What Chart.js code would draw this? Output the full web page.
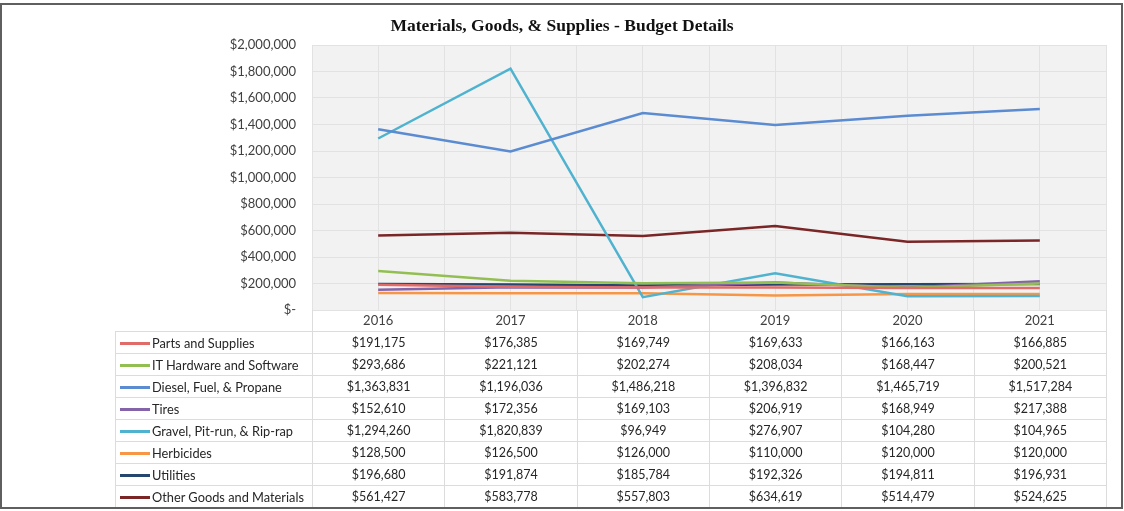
<!DOCTYPE html>
<html>
<head>
    <title>Materials, Goods, & Supplies - Budget Details</title>
    <script src="https://cdn.jsdelivr.net/npm/chart.js"></script>
    <style>
        body {
            margin: 0;
            background: #fff;
            font-family: Lato, sans-serif;
        }
        .wrap {
            position: relative;
            width: 1124px;
            height: 511px;
        }
        .frame {
            position: absolute;
            left: 0;
            top: 3px;
            width: 1119px;
            height: 502px;
            border: 2px solid #5f5f5f;
            pointer-events: none;
        }
        #table {
            position: absolute;
            left: 115px;
            top: 309px;
            border-collapse: collapse;
            table-layout: fixed;
            font-size: 12.5px;
            color: #262626;
        }
        #table td {
            border: 1px solid #dcdcdc;
            padding: 0;
            height: 21px;
            text-align: center;
            white-space: nowrap;
            overflow: hidden;
        }
        #table tr.head td {
            border-top: none;
            height: 21px;
        }
        #table tr.head td.corner {
            border-left: none;
        }
        #table td.name {
            text-align: left;
            padding-left: 4px;
            font-size: 12.8px;
        }
        .swatch {
            display: inline-block;
            width: 30px;
            height: 3px;
            vertical-align: middle;
            margin-right: 2px;
            margin-top: -2px;
        }
    </style>
</head>
<body>
    <div class="wrap">
        <canvas id="chart" width="1124" height="511"></canvas>
        <table id="table"></table>
        <div class="frame"></div>
    </div>

    <script>
        const years = ['2016', '2017', '2018', '2019', '2020', '2021'];

        const partsSupplies = [191175, 176385, 169749, 169633, 166163, 166885];
        const itHardware = [293686, 221121, 202274, 208034, 168447, 200521];
        const dieselFuel = [1363831, 1196036, 1486218, 1396832, 1465719, 1517284];
        const tires = [152610, 172356, 169103, 206919, 168949, 217388];
        const gravel = [1294260, 1820839, 96949, 276907, 104280, 104965];
        const herbicides = [128500, 126500, 126000, 110000, 120000, 120000];
        const utilities = [196680, 191874, 185784, 192326, 194811, 196931];
        const otherGoods = [561427, 583778, 557803, 634619, 514479, 524625];

        const seriesNames = ['Parts and Supplies', 'IT Hardware and Software', 'Diesel, Fuel, & Propane', 'Tires',
            'Gravel, Pit-run, & Rip-rap', 'Herbicides', 'Utilities', 'Other Goods and Materials'];
        const seriesValues = [partsSupplies, itHardware, dieselFuel, tires, gravel, herbicides, utilities, otherGoods];
        const seriesColors = ['#e06b68', '#93bf52', '#5b8bd1', '#8463a9', '#4fb3cf', '#f79646', '#24466f', '#7a2626'];

        const yTicks = [0, 200000, 400000, 600000, 800000, 1000000, 1200000, 1400000, 1600000, 1800000, 2000000];

        const money = v => '$' + v.toLocaleString('en-US');

        // plot background like the excel grey fill
        const plotFill = {
            id: 'plotFill',
            beforeDraw(chart) {
                const a = chart.chartArea;
                const ctx = chart.ctx;
                ctx.save();
                ctx.fillStyle = '#f2f2f2';
                ctx.fillRect(a.left, a.top, a.right - a.left, a.bottom - a.top);
                ctx.restore();
            }
        };

        const chart = new Chart(document.getElementById('chart'), {
            type: 'line',
            data: {
                labels: years,
                datasets: seriesNames.map((name, i) => ({
                    label: name,
                    data: seriesValues[i],
                    borderColor: seriesColors[i],
                    backgroundColor: seriesColors[i],
                    borderWidth: 2.5,
                    pointRadius: 0,
                    tension: 0,
                    fill: false
                }))
            },
            options: {
                responsive: false,
                animation: false,
                layout: {
                    padding: { left: 18, right: 18, top: 0, bottom: 180 }
                },
                plugins: {
                    legend: { display: false },
                    tooltip: { enabled: false },
                    title: {
                        display: true,
                        text: 'Materials, Goods, & Supplies - Budget Details',
                        color: '#111',
                        font: { family: "'Liberation Serif', serif", size: 17.5, weight: 'bold' },
                        padding: { top: 16, bottom: 8 }
                    }
                },
                scales: {
                    x: {
                        type: 'category',
                        offset: true,
                        grid: { display: false, drawTicks: false },
                        border: { display: false },
                        ticks: {
                            color: '#404040',
                            font: { family: 'Lato', size: 13 },
                            padding: 3,
                            maxRotation: 0
                        },
                        afterFit(scale) { scale.height = 21; }
                    },
                    // half-category gridlines only
                    xg: {
                        type: 'linear',
                        position: 'bottom',
                        min: 0,
                        max: 12,
                        ticks: { display: false, stepSize: 1 },
                        grid: { color: '#e2e2e2', drawTicks: false },
                        border: { display: false },
                        afterFit(scale) { scale.height = 0; }
                    },
                    y: {
                        min: 0,
                        max: 2000000,
                        afterBuildTicks(scale) { scale.ticks = yTicks.map(v => ({ value: v })); },
                        grid: { color: '#e2e2e2', drawTicks: false },
                        border: { display: false },
                        ticks: {
                            color: '#404040',
                            font: { family: 'Lato', size: 13 },
                            padding: 16,
                            callback: v => v === 0 ? '$-' : money(v)
                        },
                        afterFit(scale) { scale.width = 294; }
                    }
                }
            },
            plugins: [plotFill]
        });

        // data table under the plot, columns follow the category scale
        function buildTable() {
            const table = document.getElementById('table');
            const area = chart.chartArea;
            const colW = (area.right - area.left) / years.length;
            const firstW = area.left - 115;
            table.style.top = area.bottom + 'px';

            let html = '<colgroup><col style="width:' + firstW + 'px">';
            years.forEach(() => { html += '<col style="width:' + colW + 'px">'; });
            html += '</colgroup>';

            html += '<tr class="head"><td class="corner"></td>';
            years.forEach(() => { html += '<td></td>'; });
            html += '</tr>';

            seriesNames.forEach((name, i) => {
                html += '<tr><td class="name"><span class="swatch" style="background:' + seriesColors[i] + '"></span>' + name + '</td>';
                seriesValues[i].forEach(v => { html += '<td>' + money(v) + '</td>'; });
                html += '</tr>';
            });
            table.innerHTML = html;
            table.style.width = (firstW + colW * years.length) + 'px';
        }

        buildTable();
    </script>
</body>
</html>
